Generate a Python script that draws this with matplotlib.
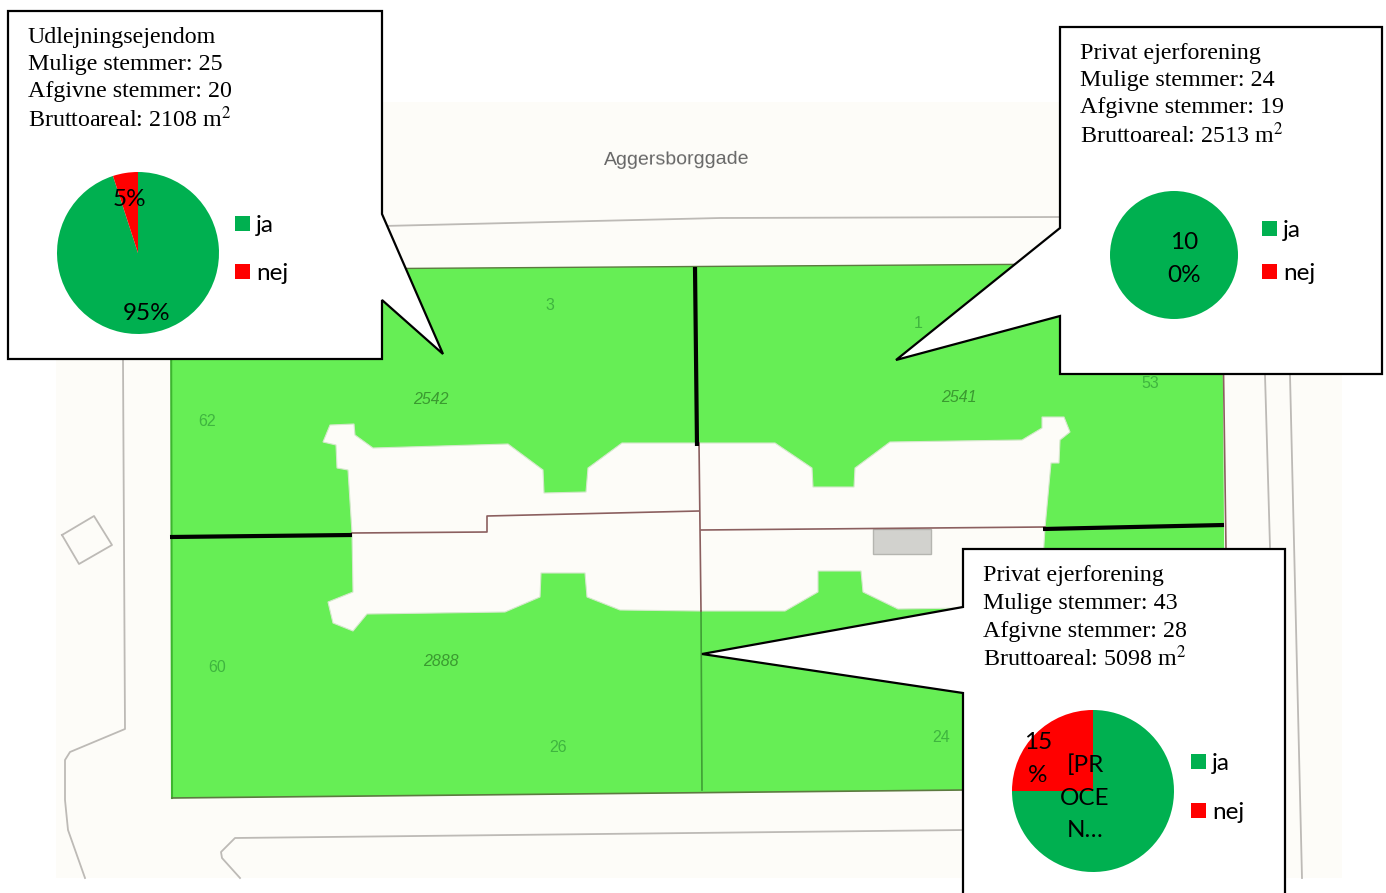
import matplotlib
matplotlib.use("Agg")
import matplotlib.pyplot as plt
from matplotlib.patches import Polygon, Rectangle

plt.rcParams['mathtext.fontset'] = 'stix'

W, H = 1386, 893

# votes per building
ja_values = [[95, 5], [100, 0], [75, 25]]
pie_labels = [["95%", "5%"], ["10\n0%", ""], ["[PR\nOCE\nN…", "15\n%"]]
legend_names = ["ja", "nej"]
pie_colors = ["#00B050", "#FF0000"]
box_titles = ["Udlejningsejendom", "Privat ejerforening", "Privat ejerforening"]
possible_votes = [25, 24, 43]
cast_votes = [20, 19, 28]
gross_areas = [2108, 2513, 5098]

# map outlines, in picture pixels
plot_area = [(171, 270), (1060, 264), (1222, 263), (1226, 790), (965, 790), (172, 798)]
building = [(330, 425), (354, 424), (355, 435), (373, 448), (508, 444), (543, 470), (544, 493),
            (586, 492), (588, 468), (622, 443), (700, 443), (775, 443), (812, 468), (813, 487),
            (854, 487), (855, 468), (890, 442), (1022, 440), (1042, 428), (1042, 417), (1064, 417),
            (1070, 432), (1060, 440), (1059, 463), (1051, 463), (1045, 528), (1043, 560), (1000, 608),
            (965, 608), (898, 609), (863, 592), (861, 571), (818, 571), (818, 592), (785, 611),
            (700, 611), (620, 610), (587, 597), (585, 573), (541, 573), (540, 597), (505, 612),
            (367, 614), (353, 631), (333, 623), (328, 602), (353, 592), (352, 533), (348, 470),
            (337, 468), (336, 445), (323, 442)]
road_lines = [
    [(383, 226), (720, 218), (1060, 217)],
    [(123, 360), (125, 729), (70, 752), (65, 760), (65, 800), (68, 830), (85, 878)],
    [(62, 535), (94, 516), (112, 545), (79, 564), (62, 535)],
    [(965, 830), (235, 838), (221, 852), (222, 858), (240, 878)],
    [(1265, 375), (1270, 547)],
    [(1290, 375), (1302, 878)],
]
lot_lines = [
    [(352, 533), (487, 532), (487, 516), (699, 511)],
    [(699, 443), (701, 611)],
    [(701, 530), (1045, 527)],
    [(1222, 263), (1226, 550)],
]
black_lines = [
    [(695, 267), (697, 446)],
    [(170, 537), (352, 535)],
    [(1043, 529), (1224, 525)],
]
map_numbers = [("3", 550, 305), ("1", 918, 324), ("53", 1150, 384), ("62", 207, 421),
               ("60", 217, 667), ("26", 558, 747), ("24", 941, 738)]
map_areas = [("2542", 431, 399), ("2541", 959, 397), ("2888", 441, 661)]

callouts = [
    [(8, 11), (382, 11), (382, 214), (443, 354), (382, 300), (382, 359), (8, 359)],
    [(1060, 27), (1382, 27), (1382, 374), (1060, 374), (1060, 316), (896, 360), (1060, 228)],
    [(963, 549), (1285, 549), (1285, 900), (963, 900), (963, 693), (702, 654), (963, 607)],
]
text_pos = [(28, 37), (1080, 53), (983, 576)]
pie_centers = [(138, 253), (1174, 255), (1093, 791)]
pie_radii = [81, 64, 81]
label_pos = [[(147, 314), (129, 199)], [(1184, 259), None], [(1085, 798), (1038, 759)]]
legend_pos = [(235, 224, 272), (1262, 229, 272), (1191, 762, 811)]

fig = plt.figure(figsize=(W / 100, H / 100), dpi=100)
bg = fig.add_axes([0, 0, 1, 1])
bg.set_xlim(0, W)
bg.set_ylim(H, 0)
bg.axis("off")

# base map
bg.add_patch(Rectangle((56, 102), 1286, 776, fc="#FDFCF8", ec="none", zorder=1))
for line in road_lines:
    xs, ys = zip(*line)
    bg.plot(xs, ys, color="#BDBAB6", lw=1.3, zorder=1.1)
bg.add_patch(Polygon(plot_area, fc="#66EE55", ec="none", zorder=1.2))
bg.add_patch(Polygon(building, fc="#FDFCF8", ec="#D5E8CC", lw=0.8, zorder=1.3))
bg.add_patch(Rectangle((873, 529), 58, 25, fc="#D2D2CE", ec="#B5B5B0", lw=1, zorder=1.4))
bg.plot([171, 172], [270, 798], color="#3DB52F", lw=1.5, zorder=1.5)
bg.plot([701, 702], [611, 790], color="#3F9F35", lw=1.2, zorder=1.5)
bg.plot([172, 965], [798, 790], color="#5C7A40", lw=1.2, zorder=1.5)
bg.plot([171, 1222], [270, 263], color="#5C7A40", lw=1.0, zorder=1.5)
for line in lot_lines:
    xs, ys = zip(*line)
    bg.plot(xs, ys, color="#8B5F5F", lw=1.2, zorder=1.6)
for line in black_lines:
    xs, ys = zip(*line)
    bg.plot(xs, ys, color="black", lw=3, solid_capstyle="butt", zorder=1.7)

bg.text(677, 160, "Aggersborggade", family="Liberation Sans", fontsize=14, color="#666666",
        ha="center", va="center", rotation=0.5, zorder=2)
for txt, x, y in map_numbers:
    bg.text(x, y, txt, family="Liberation Sans", fontsize=11.5, color="#3FB53F", ha="center", va="center", zorder=2)
for txt, x, y in map_areas:
    bg.text(x, y, txt, family="Liberation Sans", fontsize=11.5, style="italic", color="#3A9A30",
            ha="center", va="center", zorder=2)

# speech bubbles
for i, shape in enumerate(callouts):
    bg.add_patch(Polygon(shape, fc="white", ec="black", lw=1.6, joinstyle="miter", zorder=5))
    x, y = text_pos[i]
    lines = [box_titles[i],
             "Mulige stemmer: %d" % possible_votes[i],
             "Afgivne stemmer: %d" % cast_votes[i],
             "Bruttoareal: %d m$^2$" % gross_areas[i]]
    for j, line in enumerate(lines):
        bg.text(x, y + j * 27.5, line, family="Liberation Serif", fontsize=17.3, color="black",
                ha="left", va="center", zorder=6)

    # legend squares
    lx, ly1, ly2 = legend_pos[i]
    for name, col, ly in zip(legend_names, pie_colors, (ly1, ly2)):
        bg.add_patch(Rectangle((lx, ly - 8), 15, 15, fc=col, ec="none", zorder=6))
        bg.text(lx + 21, ly + 1.5, name, family="Lato", fontsize=17.5, color="black", ha="left", va="center", zorder=6)

# pies sit on top of the bubbles
for i in range(3):
    cx, cy = pie_centers[i]
    r = pie_radii[i]
    pax = fig.add_axes([(cx - r) / W, 1 - (cy + r) / H, 2 * r / W, 2 * r / H])
    pax.pie(ja_values[i], colors=pie_colors, startangle=90, counterclock=False, radius=1)
    pax.set_xlim(-1, 1)
    pax.set_ylim(-1, 1)
    for txt, pos in zip(pie_labels[i], label_pos[i]):
        if pos is None:
            continue
        pax.text(pos[0], pos[1], txt, transform=bg.transData, family="Lato", fontsize=17.5,
                 color="black", ha="center", va="center", linespacing=1.68, clip_on=False)

fig.savefig("out.png", dpi=100)
